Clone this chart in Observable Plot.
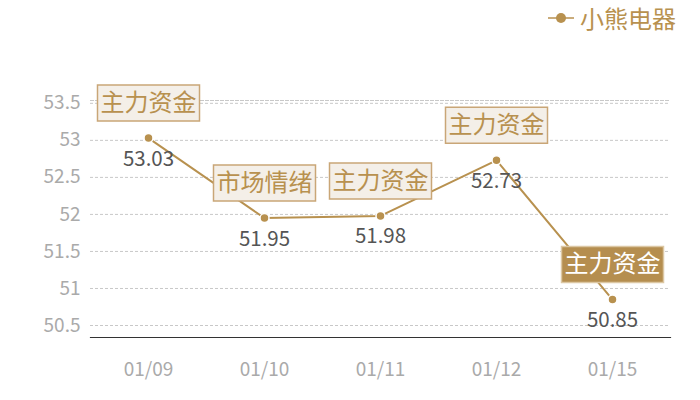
<!DOCTYPE html>
<html><head><meta charset="utf-8">
<script src="https://cdn.jsdelivr.net/npm/d3@7"></script>
<script src="https://cdn.jsdelivr.net/npm/@observablehq/plot@0.6"></script>
<style>
body{margin:0;background:#fff;font-family:"Noto Sans CJK SC","Noto Sans",sans-serif;}
#wrap{position:relative;width:700px;height:400px;}
#legend{position:absolute;top:2px;right:24px;display:flex;align-items:center;color:#b8914f;font-size:24px;line-height:32px;}
#legend svg{margin-right:6px;}
</style></head><body>
<div id="wrap"><div id="legend"><svg width="26" height="12"><line x1="0" y1="6" x2="26" y2="6" stroke="#b8914f" stroke-width="1.5"/><circle cx="13" cy="6" r="5" fill="#b8914f"/></svg><span>小熊电器</span></div></div>
<script>
const dates = ["01/09","01/10","01/11","01/12","01/15"];
const prices = [53.03,51.95,51.98,52.73,50.85];
const tags = ["主力资金","市场情绪","主力资金","主力资金","主力资金"];
const highlighted = [false,false,false,false,true];
const yTicks = [50.5,51,51.5,52,52.5,53,53.5];
const yDomain = [50.338,53.538];

const data = dates.map((d,i)=>({date:d, price:prices[i], tag:tags[i], hl:highlighted[i]}));
const tan = "#b8914f";
const box = {draw(ctx){ctx.rect(-51,-18,102,36);}};
const font = '"Noto Sans CJK SC","Noto Sans",sans-serif';

const chart = Plot.plot({
  width:700, height:400,
  marginLeft:90, marginRight:30, marginTop:100, marginBottom:63,
  style:{fontFamily:font, background:"transparent"},
  x:{type:"point", domain:dates, padding:0.5, label:null},
  y:{domain:yDomain, label:null},
  marks:[
    Plot.ruleY(yTicks,{stroke:"#c8c8c8", strokeDasharray:"3,2"}),
    Plot.frame({anchor:"top", stroke:"#c8c8c8", strokeDasharray:"3,2"}),
    Plot.frame({anchor:"bottom", stroke:"#333", strokeWidth:1.2}),
    Plot.axisY({ticks:yTicks, tickSize:0, tickPadding:10, fontSize:19, fill:"#aaa", tickFormat:d=>String(d), label:null}),
    Plot.axisX({tickSize:0, tickPadding:25, fontSize:19, fill:"#aaa", label:null}),
    Plot.line(data,{x:"date", y:"price", stroke:tan, strokeWidth:2}),
    Plot.dot(data,{x:"date", y:"price", r:4.5, fill:tan, stroke:"#fff", strokeWidth:1.5}),
    Plot.text(data,{x:"date", y:"price", text:d=>d.price.toFixed(2), dy:21, fill:"#555", fontSize:20.5}),
    Plot.dot(data,{x:"date", y:"price", symbol:box, r:5, dy:-35, fill:d=>d.hl?"#b58e4f":"#f4efe8", stroke:d=>d.hl?"#dcc7a3":"#c9a677", strokeWidth:1.5}),
    Plot.text(data,{x:"date", y:"price", text:"tag", dy:-35, fill:d=>d.hl?"#ffffff":tan, fontSize:24})
  ]
});
document.getElementById("wrap").appendChild(chart);
</script></body></html>
